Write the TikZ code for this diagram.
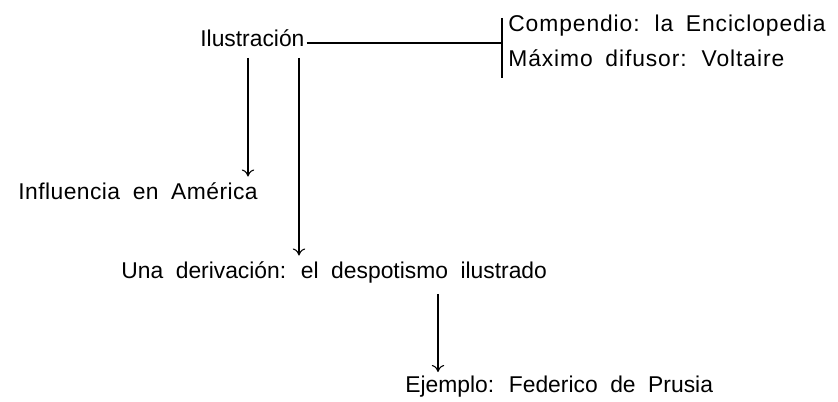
\documentclass[tikz,border=0pt]{standalone}
\usepackage{fontspec}
\setmainfont{Liberation Sans}
\usetikzlibrary{arrows.meta}
\newcommand{\labelfont}{\fontsize{13}{15}\selectfont\spaceskip=0.55em\relax}
\newcommand{\widefont}{\addfontfeature{LetterSpace=4}}
\begin{document}
\begin{tikzpicture}[
        x=0.02cm, y=-0.02cm,
        every node/.style={font=\labelfont, inner sep=0pt, anchor=base west},
        arrow/.style={-{To[length=4pt,width=7pt]}, semithick},
        link/.style={semithick}
    ]
    \useasboundingbox (0,0) rectangle (838,402);

    % Nodes
    \node (ilustracion) at (200,47) {Ilustración};
    \node (compendio) at (508,32) {\widefont Compendio: la Enciclopedia};
    \node (difusor) at (508,67) {\widefont Máximo difusor: Voltaire};
    \node (influencia) at (18,199) {\addfontfeature{LetterSpace=2}Influencia en América};
    \node (derivacion) at (121,278) {Una derivación: el despotismo ilustrado};
    \node (ejemplo) at (405,392) {Ejemplo: Federico de Prusia};

    % Bracket
    \coordinate (bartop) at (502,18);
    \coordinate (barbot) at (502,78);
    \draw [link] (bartop) -- (barbot);
    \draw [link] ([xshift=1pt,yshift=0.08cm]ilustracion.base east) coordinate (hstart) -- (hstart -| bartop);

    % Arrows
    \coordinate (s1) at (248,0);
    \coordinate (s2) at (299,0);
    \coordinate (s3) at (438,0);
    \draw [arrow] ([yshift=-0.22cm]s1 |- ilustracion.base) -- ([yshift=0.45cm]s1 |- influencia.base);
    \draw [arrow] ([yshift=-0.22cm]s2 |- ilustracion.base) -- ([yshift=0.45cm]s2 |- derivacion.base);
    \draw [arrow] ([yshift=-0.32cm]s3 |- derivacion.base) -- ([yshift=0.4cm]s3 |- ejemplo.base);

\end{tikzpicture}
\end{document}
